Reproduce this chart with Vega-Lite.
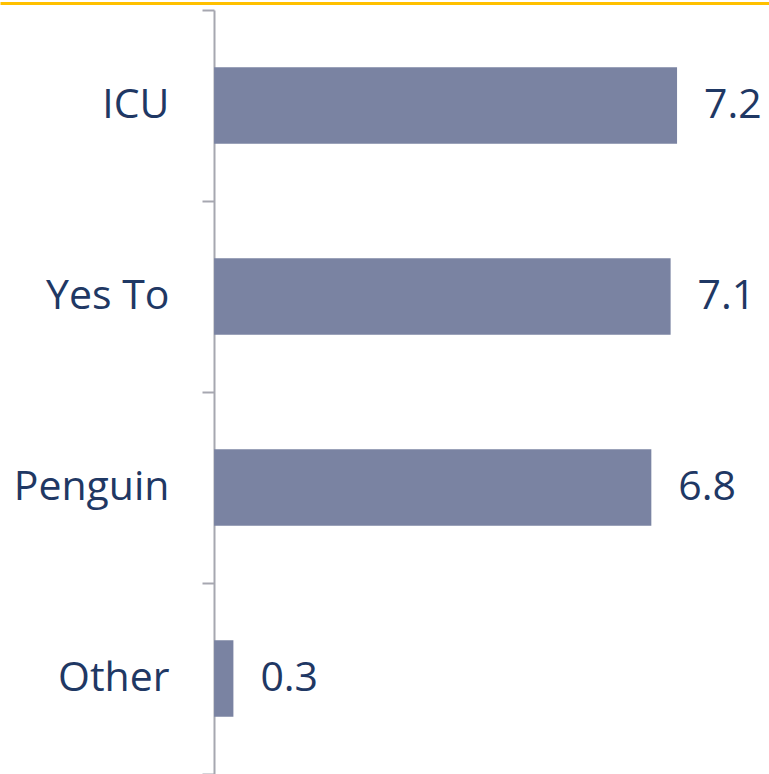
{
  "$schema": "https://vega.github.io/schema/vega-lite/v6.json",
  "width": 769,
  "height": 764,
  "autosize": {"type": "none"},
  "padding": {"left": 0, "top": 10, "right": 0, "bottom": 0},
  "background": "white",
  "config": {"view": {"stroke": null}},
  "data": {"values": [
    {"cat": "ICU", "value": 7.2},
    {"cat": "Yes To", "value": 7.1},
    {"cat": "Penguin", "value": 6.8},
    {"cat": "Other", "value": 0.3}
  ]},
  "encoding": {
    "y": {
      "field": "cat", "type": "nominal", "sort": null,
      "scale": {"paddingInner": 0, "paddingOuter": 0},
      "axis": {
        "title": null, "orient": "left", "offset": -214,
        "tickBand": "extent", "tickSize": 12, "tickColor": "#a6a7b0", "tickWidth": 2,
        "domainColor": "#a6a7b0", "domainWidth": 2,
        "labelFont": "Open Sans", "labelFontSize": 41, "labelColor": "#1f3864",
        "labelPadding": 33, "labelAlign": "right", "labelBaseline": "middle"
      }
    },
    "x": {
      "field": "value", "type": "quantitative",
      "scale": {"domain": [-3.33, 8.63], "nice": false, "zero": false},
      "axis": {
        "title": null, "orient": "top", "labels": false, "ticks": false, "grid": false,
        "domainColor": "#ffc000", "domainWidth": 3, "offset": 7
      }
    }
  },
  "layer": [
    {
      "mark": {"type": "bar", "color": "#7a83a2", "height": {"band": 0.4}},
      "encoding": {"x2": {"datum": 0}}
    },
    {
      "mark": {"type": "text", "align": "left", "baseline": "middle", "dx": 27, "font": "Open Sans", "fontSize": 41, "color": "#1f3864"},
      "encoding": {"text": {"field": "value", "type": "quantitative", "format": ".1f"}}
    }
  ]
}
